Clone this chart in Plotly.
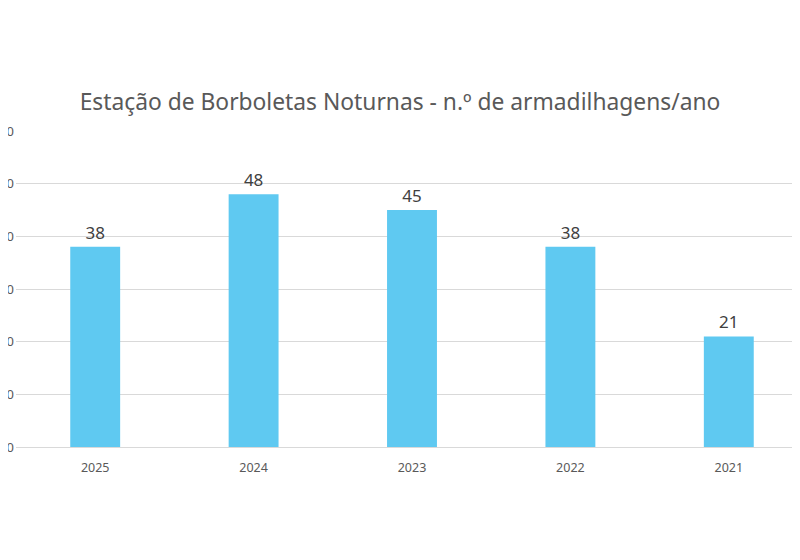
import plotly.graph_objects as go

years = ['2025', '2024', '2023', '2022', '2021']
traps = [38, 48, 45, 38, 21]
y_ticks = [0, 10, 20, 30, 40, 50, 60]

fig = go.Figure()

fig.add_trace(go.Bar(
    x=years,
    y=traps,
    marker=dict(color='#5FC9F1', line=dict(width=0)),
    width=0.315,
    text=[str(v) for v in traps],
    textposition='outside',
    textfont=dict(size=17, color='#404040'),
    cliponaxis=False,
))

# page body adds an 8px offset, so margins are shifted to compensate
fig.update_layout(
    title=dict(
        text='Estação de Borboletas Noturnas - n.º de armadilhagens/ano',
        x=0.49, xanchor='center',
        y=1 - 94 / 560, yanchor='middle',
        font=dict(size=22.8, color='#595959'),
    ),
    font=dict(family='Noto Sans', color='#595959'),
    width=800,
    height=560,
    margin=dict(l=8, r=0, t=123, b=121),
    plot_bgcolor='white',
    paper_bgcolor='white',
    showlegend=False,
)

fig.update_xaxes(
    range=[-0.5, 4.5],
    showgrid=False,
    showline=True,
    linecolor='#D9D9D9',
    linewidth=1,
    ticks='',
    ticklabelstandoff=9,
    tickfont=dict(size=12.5, color='#595959'),
)

fig.update_yaxes(
    range=[0, 60],
    tickvals=y_ticks,
    showgrid=True,
    gridcolor='#D9D9D9',
    gridwidth=1,
    zeroline=False,
    automargin=False,
    ticks='',
    ticklabelstandoff=1,
    tickfont=dict(size=13, color='#595959'),
)

fig.write_html("out.html")
